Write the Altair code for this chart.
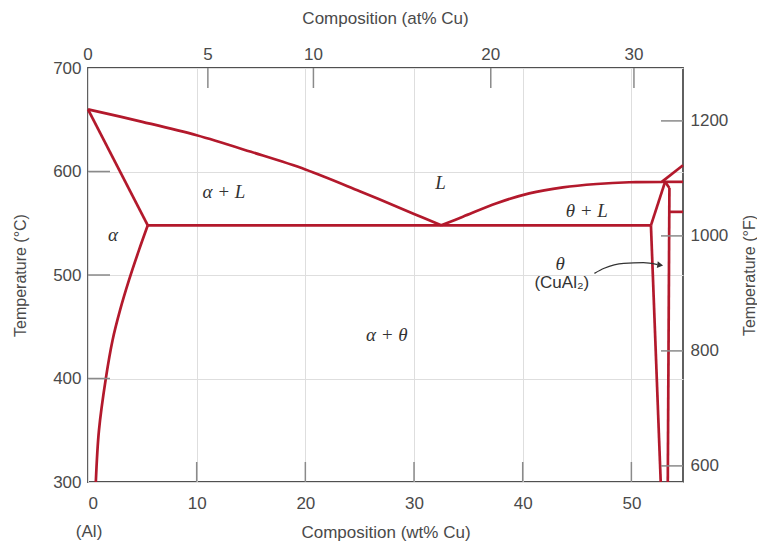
import altair as alt
import pandas as pd

RED = "#b3192c"
TXT = "#4a4a4a"
SANS = "Liberation Sans"
SERIF = "Liberation Serif"

W, H = 595, 414
X_DOM = [0, 54.75]
T_DOM = [300, 700]
F_DOM = [572, 1292]

# ---- phase boundaries (wt% Cu, deg C) ----
liq_alpha_wt = [0, 5, 10, 15, 20, 25, 30, 32.5]
liq_alpha_T = [660, 648, 635, 619, 602, 581, 559, 548]
sol_alpha_wt = [0, 5.5]
sol_alpha_T = [660, 548]
solvus_wt = [5.5, 4.69, 3.77, 2.95, 2.26, 1.64, 1.01, 0.72]
solvus_T = [548, 524, 495, 466, 437, 400, 350, 300]
eut_wt = [5.5, 51.8]
eut_T = [548, 548]
liq_theta_wt = [32.5, 34.5, 37.6, 40.6, 43.7, 46.8, 49.8, 52.9]
liq_theta_T = [548, 556.3, 569.3, 578.9, 584.7, 587.9, 589.6, 590]
flat590_wt = [52.9, 54.75]
flat590_T = [590, 590]
liq_upper_wt = [52.8, 54.75]
liq_upper_T = [590, 606]
theta_left_top_wt = [53.1, 51.8]
theta_left_top_T = [590, 548]
theta_left_wt = [51.8, 52.7]
theta_left_T = [548, 300]
theta_right_top_wt = [53.1, 53.5]
theta_right_top_T = [590, 584]
theta_right_wt = [53.5, 53.35]
theta_right_T = [584, 300]
flat561_wt = [53.5, 54.75]
flat561_T = [561, 561]

segments = [
    (liq_alpha_wt, liq_alpha_T), (sol_alpha_wt, sol_alpha_T),
    (solvus_wt, solvus_T), (eut_wt, eut_T), (liq_theta_wt, liq_theta_T),
    (flat590_wt, flat590_T), (liq_upper_wt, liq_upper_T),
    (theta_left_top_wt, theta_left_top_T), (theta_left_wt, theta_left_T),
    (theta_right_top_wt, theta_right_top_T), (theta_right_wt, theta_right_T),
    (flat561_wt, flat561_T),
]
rows = []
for i, (ws, ts) in enumerate(segments):
    for j, (w, t) in enumerate(zip(ws, ts)):
        rows.append({"seg": i, "ord": j, "wt": w, "T": t})
lines_df = pd.DataFrame(rows)

# ---- region labels ----
phase_labels = ["α + L", "L", "θ + L", "α", "α + θ", "θ"]
phase_wt = [12.5, 32.45, 45.9, 2.3, 27.5, 43.45]
phase_T = [580.5, 588.6, 562, 539, 442, 511]
phase_df = pd.DataFrame({"lab": phase_labels, "wt": phase_wt, "T": phase_T})
comp_df = pd.DataFrame({"lab": ["(CuAl₂)"], "wt": [43.6], "T": [492]})

# arrow
arrow_wt = [46.6, 47.5, 49.3, 51.1, 52.4]
arrow_T = [501.6, 506.5, 511.3, 511.9, 510.0]
arrow_df = pd.DataFrame({"wt": arrow_wt, "T": arrow_T, "ord": range(len(arrow_wt))})
head_df = pd.DataFrame({"wt": [52.65], "T": [509.6]})

# ---- axis ticks ----
wt_ticks = [0, 10, 20, 30, 40, 50]
wt_inner_ticks = [10, 20, 30, 40, 50]
T_ticks = [300, 400, 500, 600, 700]
T_inner_ticks = [400, 500, 600]
F_ticks = [600, 800, 1000, 1200]
at_ticks = [0, 5, 10, 20, 30]
at_labels = ["0", "5", "10", "20", "30"]
M_CU, M_AL = 63.55, 26.98
at_as_wt = [100 * a * M_CU / (a * M_CU + (100 - a) * M_AL) for a in at_ticks]
top_df = pd.DataFrame({"wt": at_as_wt, "lab": at_labels})
top_inner_df = top_df[top_df["lab"] != "0"]

xs = alt.Scale(domain=X_DOM, nice=False, zero=False)
ys = alt.Scale(domain=T_DOM, nice=False, zero=False)
fs = alt.Scale(domain=F_DOM, nice=False, zero=False)

x_axis = alt.Axis(values=wt_ticks, grid=True, gridColor="#dedede", gridWidth=1,
                  ticks=False, tickSize=0, domain=False, labelFont=SANS,
                  labelFontSize=17, labelColor=TXT, labelPadding=13,
                  title="Composition (wt% Cu)", titleFont=SANS, titleFontSize=17,
                  titleFontWeight="normal", titleColor=TXT,
                  titleX=W / 2, titleY=55, titleBaseline="alphabetic")
y_axis = alt.Axis(values=T_ticks, grid=True, gridColor="#dedede", gridWidth=1,
                  ticks=False, tickSize=0, domain=False, labelFont=SANS,
                  labelFontSize=17, labelColor=TXT, labelPadding=7,
                  title="Temperature (°C)", titleFont=SANS, titleFontSize=16,
                  titleFontWeight="normal", titleColor=TXT,
                  titleX=-68, titleY=H / 2, titleAngle=270, titleBaseline="middle")
f_axis = alt.Axis(values=F_ticks, orient="right", grid=False, ticks=False, format="d",
                  tickSize=0, domain=False, labelFont=SANS, labelFontSize=17,
                  labelColor=TXT, labelPadding=7, title="Temperature (°F)",
                  titleFont=SANS, titleFontSize=16, titleFontWeight="normal",
                  titleColor=TXT, titleX=66, titleY=H / 2, titleAngle=270,
                  titleBaseline="middle")


def XE(field="wt:Q"):
    return alt.X(field, scale=xs, axis=x_axis)


def YE(field="T:Q"):
    return alt.Y(field, scale=ys, axis=y_axis)


lines = alt.Chart(lines_df).mark_line(
    color=RED, strokeWidth=2.7, interpolate="catmull-rom", strokeJoin="round"
).encode(x=XE(), y=YE(), detail="seg:N", order="ord:Q")

labels = alt.Chart(phase_df).mark_text(
    font=SERIF, fontStyle="italic", fontSize=19, color="#333"
).encode(x=XE(), y=YE(), text="lab:N")
comp = alt.Chart(comp_df).mark_text(font=SANS, fontSize=17, color="#333").encode(
    x=XE(), y=YE(), text="lab:N"
)
arrow = alt.Chart(arrow_df).mark_line(
    color="#333", strokeWidth=1.3, interpolate="monotone"
).encode(x=XE(), y=YE(), order="ord:Q")
head = alt.Chart(head_df).mark_point(
    shape="triangle-right", filled=True, color="#333", size=45, angle=8, opacity=1
).encode(x=XE(), y=YE())

TICK_C = "#8a8a8a"
bottom_ticks = alt.Chart(pd.DataFrame({"wt": wt_inner_ticks})).mark_rule(
    color=TICK_C, strokeWidth=1.5
).encode(x=XE(), y=alt.value(H), y2=alt.value(H - 20))
left_ticks = alt.Chart(pd.DataFrame({"T": T_inner_ticks})).mark_rule(
    color=TICK_C, strokeWidth=1.5
).encode(y=YE(), x=alt.value(0), x2=alt.value(22))
top_ticks = alt.Chart(top_inner_df).mark_rule(color=TICK_C, strokeWidth=1.5).encode(
    x=XE(), y=alt.value(0), y2=alt.value(20)
)
top_labels = alt.Chart(top_df).mark_text(
    font=SANS, fontSize=17, color=TXT, baseline="alphabetic"
).encode(x=XE(), y=alt.value(-8), text="lab:N")
top_title = alt.Chart(pd.DataFrame({"t": ["Composition (at% Cu)"]})).mark_text(
    font=SANS, fontSize=17, color=TXT, baseline="alphabetic"
).encode(x=alt.value(W / 2), y=alt.value(-44), text="t:N")
al_label = alt.Chart(pd.DataFrame({"t": ["(Al)"], "wt": [0.1]})).mark_text(
    font=SANS, fontSize=17, color=TXT, baseline="alphabetic"
).encode(x=XE(), y=alt.value(H + 55), text="t:N")

celsius = alt.layer(lines, bottom_ticks, left_ticks, top_ticks, labels, comp,
                    arrow, head, top_labels, top_title, al_label)

right_ticks = alt.Chart(pd.DataFrame({"F": F_ticks})).mark_rule(
    color=TICK_C, strokeWidth=1.5
).encode(y=alt.Y("F:Q", scale=fs, axis=f_axis), x=alt.value(W - 22), x2=alt.value(W))

chart = alt.layer(celsius, right_ticks).resolve_scale(y="independent").properties(
    width=W, height=H,
    padding={"left": 80, "top": 60, "right": 74, "bottom": 60},
    autosize=alt.AutoSizeParams(type="none"),
).configure_view(stroke="#505050", strokeWidth=1.8)

chart.save("out.html", embed_options={"renderer": "svg", "actions": False})
